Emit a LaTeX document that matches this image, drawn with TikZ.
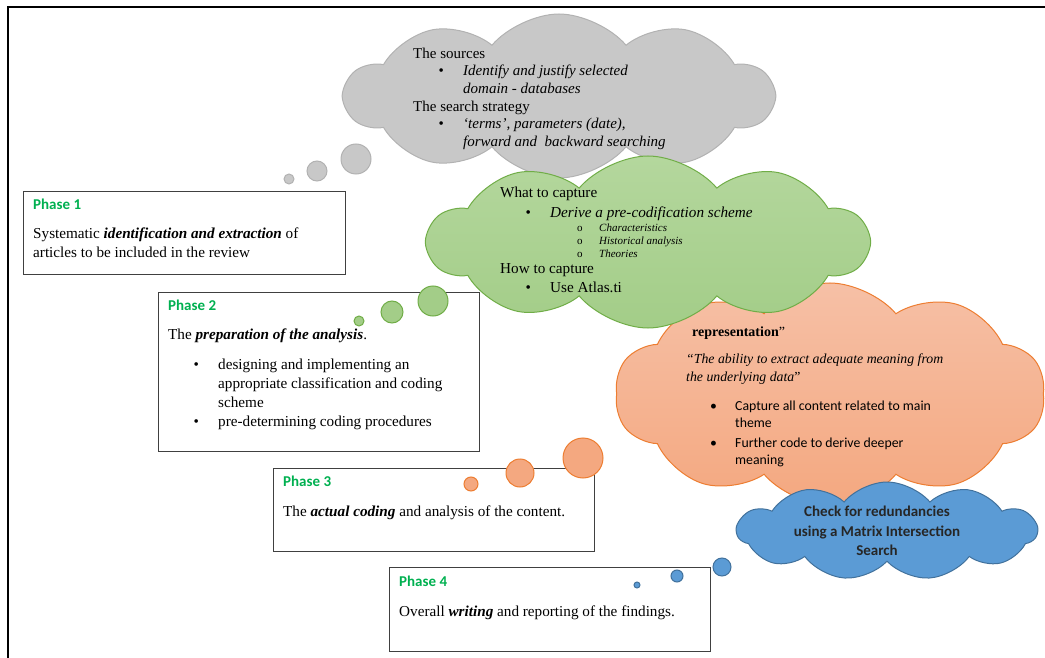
\documentclass[tikz,border=0pt]{standalone}
\usepackage{fontspec}
\setmainfont{Liberation Serif}
\newfontfamily\calibri{Carlito}
\usetikzlibrary{shapes.symbols,positioning}
\definecolor{boxGray}{RGB}{64,64,64}
\definecolor{phaseGreen}{RGB}{0,176,80}
\definecolor{srcFill}{RGB}{200,200,200}
\definecolor{srcLine}{RGB}{178,178,178}
\definecolor{capFillA}{RGB}{180,215,157}
\definecolor{capFillB}{RGB}{163,205,136}
\definecolor{capLine}{RGB}{112,173,71}
\definecolor{repFillA}{RGB}{246,192,166}
\definecolor{repFillB}{RGB}{244,168,128}
\definecolor{repLine}{RGB}{237,125,49}
\definecolor{chkFill}{RGB}{91,155,213}
\definecolor{chkLine}{RGB}{65,113,156}
\newcommand{\bitem}[1]{\hspace*{25.5pt}\makebox[24.5pt][l]{\textbullet}#1}
\newcommand{\bcont}[1]{\hspace*{50pt}#1}
\newcommand{\subbul}[1]{\makebox[22pt][l]{\textup{o}}#1}
\tikzset{
  phasebox/.style={draw=boxGray,line width=1pt,inner sep=0pt,anchor=north west},
  phaselabel/.style={font=\calibri\bfseries\fontsize{15}{17}\selectfont,text=phaseGreen,anchor=base west,inner sep=0pt},
  bodytext/.style={font=\fontsize{15.2}{19}\selectfont,anchor=base west,inner sep=0pt,align=left},
  thought/.style={cloud,cloud puffs=10,cloud puff arc=100,aspect=2.5,inner sep=0pt,line width=1pt},
}

\begin{document}
\begin{tikzpicture}[x=1pt,y=-1pt]
    \useasboundingbox (0,0) rectangle (1045,658);
    \draw[line width=2.2pt] (1045,7) -- (8,7) -- (8,658);

    % the four phases (text nodes sit on the baseline of their last line)
    \node[phasebox,minimum width=322pt,minimum height=83pt] (ph1) at (23,191) {};
    \node[phasebox,minimum width=321pt,minimum height=159pt] (ph2) at (158,292) {};
    \node[phasebox,minimum width=321pt,minimum height=83pt] (ph3) at (273,468) {};
    \node[phasebox,minimum width=321pt,minimum height=84pt] (ph4) at (389,567) {};

    \node[phaselabel] (ph1title) at (33,209) {Phase 1};
    \node[bodytext] (ph1text) at (33,257) {Systematic \textbf{\textit{identification and extraction}} of\\
      articles to be included in the review};

    \node[phaselabel] (ph2title) at (168,310) {Phase 2};
    \node[bodytext] (ph2text) at (168,426) {The \textbf{\textit{preparation of the analysis}}.\\[11pt]
      \bitem{designing and implementing an}\\
      \bcont{appropriate classification and coding}\\
      \bcont{scheme}\\
      \bitem{pre-determining coding procedures}};

    \node[phaselabel] (ph3title) at (283,486) {Phase 3};
    \node[bodytext] (ph3text) at (283,516) {The \textbf{\textit{actual coding}} and analysis of the content.};

    \node[phaselabel] (ph4title) at (399,586) {Phase 4};
    \node[bodytext] (ph4text) at (399,616) {Overall \textbf{\textit{writing}} and reporting of the findings.};

    % sources cloud
    \node[thought,draw=srcLine,fill=srcFill,minimum width=428pt,minimum height=164pt] (srcCloud) at (559,96) {};
    \foreach \cx/\cy/\r in {289/179/5, 317/171/10, 356/159/15}
      \draw[srcLine,fill=srcFill,line width=1pt] (\cx,\cy) circle (\r);
    \node[bodytext,font=\fontsize{15}{17.7}\selectfont] (srcText) at (413,146.5) {The sources\\
      \bitem{\textit{Identify and justify selected}}\\
      \bcont{\textit{domain - databases}}\\
      The search strategy\\
      \bitem{\textit{`terms', parameters (date),}}\\
      \bcont{\textit{forward and\ \ backward searching}}};

    % representation cloud
    \node[thought,draw=repLine,top color=repFillA,bottom color=repFillB,minimum width=430pt,minimum height=222pt] (repCloud) at (830,394) {};
    \foreach \cx/\cy/\r in {471/484/7, 520/473/14, 583/458/20}
      \draw[repLine,fill=repFillB,line width=1pt] (\cx,\cy) circle (\r);
    \node[bodytext,font=\fontsize{14}{18}\selectfont] (repHead) at (692,336) {\textbf{representation}''};
    \node[bodytext,font=\fontsize{13.8}{18}\selectfont] (repQuote) at (686,381) {\textit{``The ability to extract adequate meaning from}\\
      \textit{the underlying data}''};
    \node[bodytext,font=\calibri\fontsize{13.8}{17}\selectfont] (repList) at (710,464) {\makebox[25pt][l]{\textbullet}Capture all content related to main\\
      \hspace*{25pt}theme\\[3pt]
      \makebox[25pt][l]{\textbullet}Further code to derive deeper\\
      \hspace*{25pt}meaning};

    % capture cloud
    \node[thought,draw=capLine,top color=capFillA,bottom color=capFillB,minimum width=440pt,minimum height=172pt] (capCloud) at (648,242) {};
    \foreach \cx/\cy/\r in {359/321/5, 392/312/11, 433/301/15}
      \draw[capLine,fill=capFillB,line width=1pt] (\cx,\cy) circle (\r);
    \node[bodytext,font=\fontsize{15.2}{20}\selectfont] (capWhat) at (500,218) {What to capture\\
      \bitem{\textit{Derive a pre-codification scheme}}};
    \node[bodytext,font=\itshape\fontsize{11}{12.5}\selectfont] (capSub) at (577,257) {\subbul{Characteristics}\\
      \subbul{Historical analysis}\\
      \subbul{Theories}};
    \node[bodytext,font=\fontsize{15.2}{19}\selectfont] (capHow) at (500,292) {How to capture\\
      \bitem{Use Atlas.ti}};

    % check cloud
    \node[thought,cloud puffs=11,draw=chkLine,fill=chkFill,minimum width=300pt,minimum height=98pt] (chkCloud) at (887,531) {};
    \foreach \cx/\cy/\r in {637/585/3, 677/576/6, 722/567/9}
      \draw[chkLine,fill=chkFill,line width=1pt] (\cx,\cy) circle (\r);
    \node[font=\calibri\bfseries\fontsize{15}{19.5}\selectfont,align=center,inner sep=0pt,text=black!85] (chkText) at (877,531) {Check for redundancies\\
      using a Matrix Intersection\\
      Search};
\end{tikzpicture}
\end{document}
